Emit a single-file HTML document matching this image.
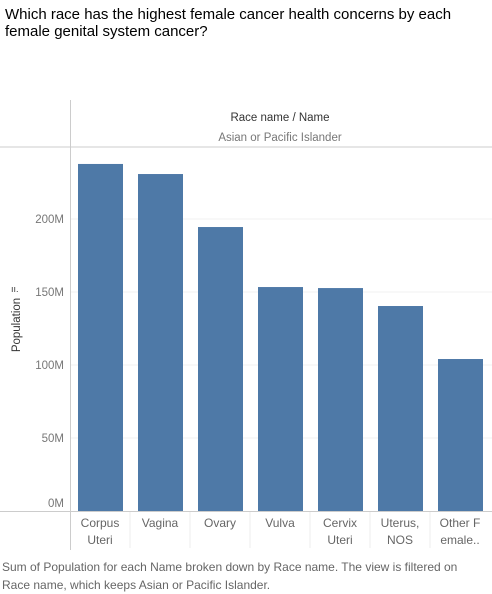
<!DOCTYPE html>
<html><head><meta charset="utf-8"><style>
body{margin:0;width:492px;height:594px;background:#fff;font-family:"Liberation Sans",sans-serif;overflow:hidden;position:relative}
#title{position:absolute;left:5px;top:6px;font-size:15px;line-height:17px;color:#000;width:455px}
#foot{position:absolute;left:2px;top:558px;font-size:12px;line-height:18px;color:#666;width:485px}
</style></head><body>
<div id="title">Which race has the highest female cancer health concerns by each female genital system cancer?</div>
<svg id="chart" width="492" height="594" style="position:absolute;left:0;top:0"></svg>
<div id="foot">Sum of Population for each Name broken down by Race name. The view is filtered on Race name, which keeps Asian or Pacific Islander.</div>
<script>
const categories=[["Corpus","Uteri"],["Vagina"],["Ovary"],["Vulva"],["Cervix","Uteri"],["Uterus,","NOS"],["Other F","emale.."]];
const values=[237.7,230.8,194.5,153.4,152.7,140.4,104.1];
const ticks=[0,50,100,150,200];
const tickLabels=["0M","50M","100M","150M","200M"];
const svg=document.getElementById('chart');
const NS='http://www.w3.org/2000/svg';
function mk(t,a,txt){const e=document.createElementNS(NS,t);for(const k in a)e.setAttribute(k,a[k]);if(txt!==undefined)e.textContent=txt;svg.appendChild(e);return e;}
const y0=511,pxPer=73/50;
const y=v=>y0-v*pxPer;
const x0=70,band=60;
const x=i=>x0+i*band;
ticks.forEach((t,i)=>{
 if(t>0){const g=mk('line',{x1:70,x2:492,y1:y(t),y2:y(t),stroke:'#f0f0f0','stroke-width':1});
 
 }
 const l=mk('text',{x:64,y:(t>0?y(t)+4:y(t)-4),'text-anchor':'end','font-size':11.5,fill:'#777'},tickLabels[i]);
 
 
});
values.forEach((v,i)=>{
 const r=mk('rect',{x:x(i)+8,y:y(v),width:45,height:y0-y(v),fill:'#4e79a7'});
 
 
 categories[i].forEach((s,j)=>{
  const t=mk('text',{x:x(i)+30,y:527+j*17,'text-anchor':'middle','font-size':12,fill:'#666'},s);
  
  
 });
 if(i>0){const s=mk('line',{x1:x(i),x2:x(i),y1:512,y2:548,stroke:'#eee'});
 
 }
});
[[0,147,492,147],[0,511.5,492,511.5],[70.5,100,70.5,550]].forEach(c=>{
 const l=mk('line',{x1:c[0],y1:c[1],x2:c[2],y2:c[3],stroke:'#ccc','stroke-width':1});
 
 
});
const h=mk('text',{x:280,y:121,'text-anchor':'middle','font-size':11.5,fill:'#333'},'Race name  /  Name');


const h2=mk('text',{x:280,y:141,'text-anchor':'middle','font-size':11.5,fill:'#777'},'Asian or Pacific Islander');


const yt=mk('text',{x:20,y:325,'text-anchor':'middle','font-size':11.5,fill:'#333',transform:'rotate(-90 20 325)'},'Population');


const ic=mk('text',{x:11,y:292,'font-size':9,fill:'#333'},'ıı.');


</script>
</body></html>
